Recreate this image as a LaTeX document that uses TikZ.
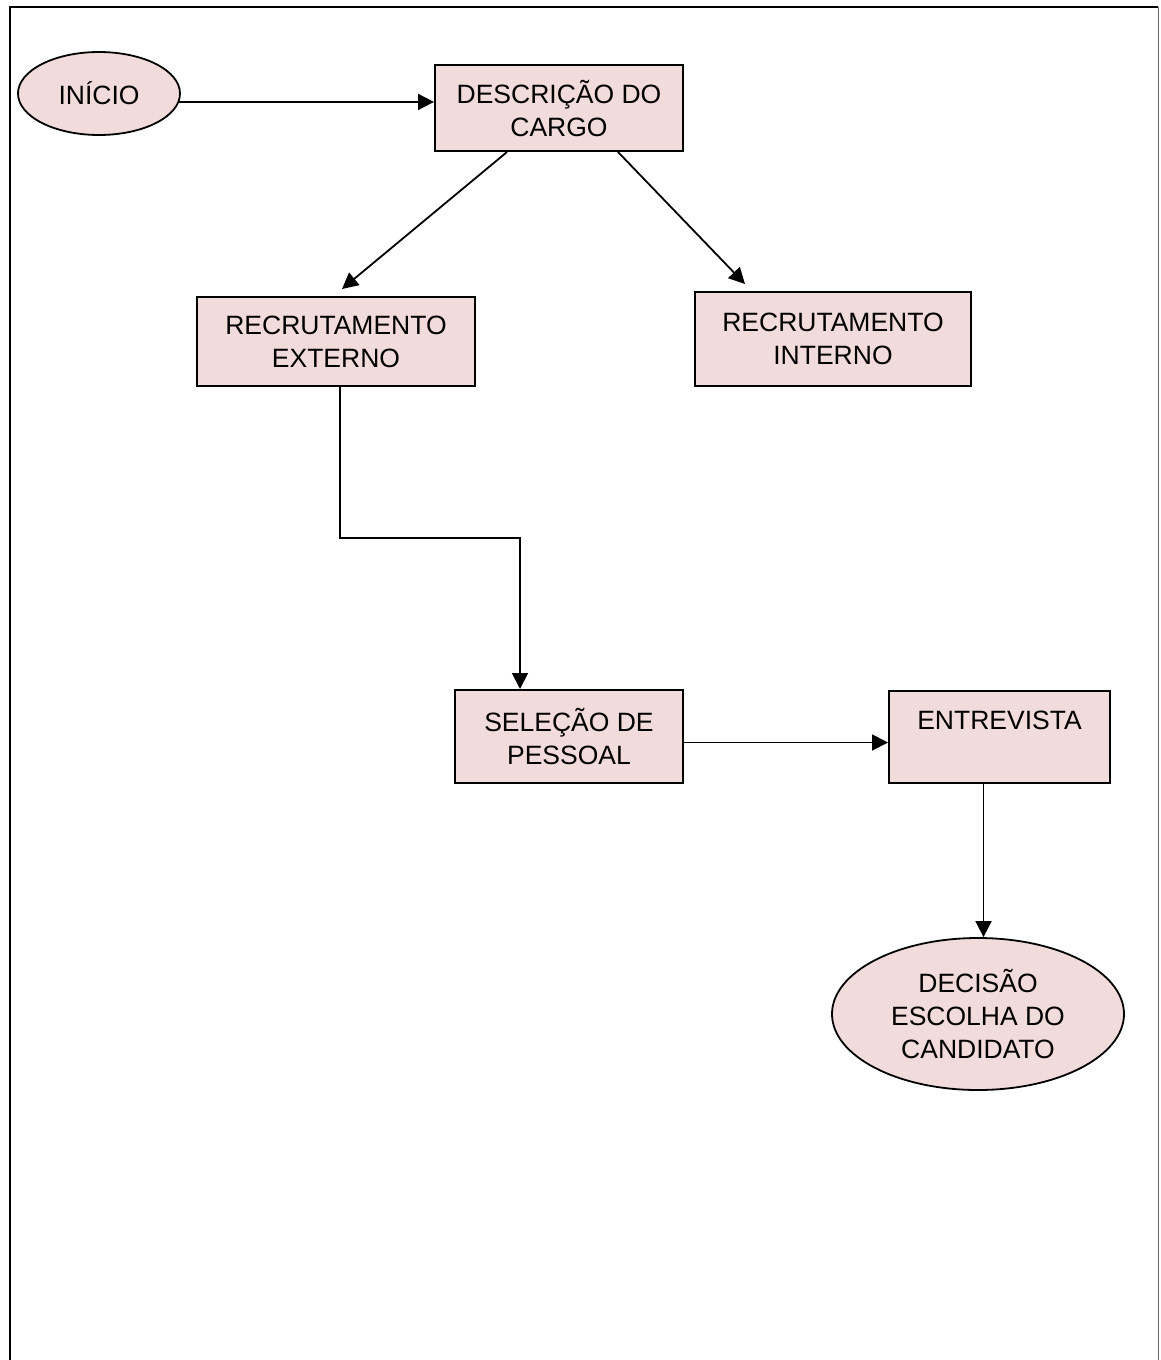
\documentclass[tikz,border=0pt]{standalone}
\usepackage{fontspec}
\setmainfont{Liberation Sans}
\usepackage{xcolor}
\definecolor{rhpink}{HTML}{F2DCDB}
\usetikzlibrary{arrows.meta,positioning,shapes.geometric}

\begin{document}
\begin{tikzpicture}[x=0.5pt,y=-0.5pt,
    every node/.style={font=\fontsize{13.25pt}{16.5pt}\selectfont,align=center,inner sep=0pt},
    box/.style={draw,line width=1pt,fill=rhpink},
    oval/.style={ellipse,draw,line width=0.9pt,fill=rhpink},
    arr/.style={line width=0.9pt,-{Triangle[length=8pt,width=8pt]}}]
  \useasboundingbox (0,0) rectangle (1161,1360);
  % moldura
  \draw[line width=1.1pt] (10,1360) -- (10,7) -- (1158,7);
  \draw[line width=0.5pt,black!60] (1158,7) -- (1158,1360);
  % etapas
  \node[oval,minimum width=81pt,minimum height=41.5pt] (inicio) at (99,93.5) {INÍCIO};
  \node[box,minimum width=124pt,minimum height=43pt] (desc) at (559,108) {DESCRIÇÃO DO\\CARGO};
  \node[box,minimum width=139pt,minimum height=44.5pt] (externo) at (336,341.5) {RECRUTAMENTO\\EXTERNO};
  \node[box,minimum width=138pt,minimum height=47pt] (interno) at (833,339) {RECRUTAMENTO\\INTERNO};
  \node[box,minimum width=114pt,minimum height=46.5pt] (selecao) at (569,736.5) {SELEÇÃO DE\\PESSOAL};
  \node[box,minimum width=110.5pt,minimum height=46pt] (entrevista) at (999.5,737) {ENTREVISTA\\\mbox{}};
  \node[oval,minimum width=146pt,minimum height=76pt] (decisao) at (978,1014) {DECISÃO\\ESCOLHA DO\\CANDIDATO};
  \coordinate (dobra) at (520,538);
  % ligacoes
  \draw[arr] (inicio.-6) -- (inicio.-6 -| desc.west);
  \draw[arr] ([xshift=-26pt]desc.south) -- ([xshift=3pt,yshift=3.5pt]externo.north);
  \draw[arr] ([xshift=29.5pt]desc.south) -- ([xshift=-44pt,yshift=3.5pt]interno.north);
  \draw[arr] ([xshift=2pt]externo.south) |- (dobra) -- (dobra |- selecao.north);
  \draw[arr] ([yshift=-3pt]selecao.east) -- ([yshift=-3pt]selecao.east -| entrevista.west);
  \draw[arr] ([xshift=-8pt]entrevista.south) -- ([xshift=-8pt]entrevista.south |- decisao.north);
\end{tikzpicture}
\end{document}
